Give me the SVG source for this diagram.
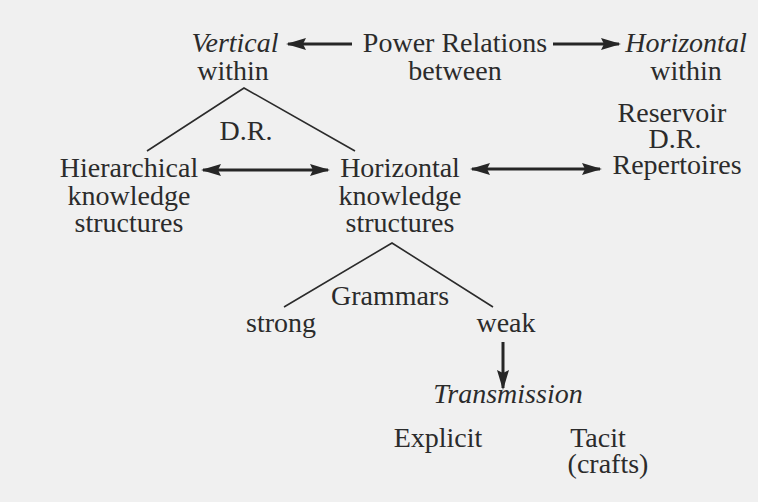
<svg xmlns="http://www.w3.org/2000/svg" width="758" height="502" viewBox="0 0 758 502" font-family="'Liberation Serif', 'Times New Roman', serif">
  <defs>
    <style>
      text { font-size: 28px; fill: #2b2b2b; text-anchor: middle; }
      .it { font-style: italic; }
      .arrow { stroke: #262626; stroke-width: 3; fill: none; }
      .branch { stroke: #2b2b2b; stroke-width: 1.6; fill: none; }
    </style>
    <marker id="head" viewBox="0 0 20 12" refX="18" refY="6" markerWidth="20" markerHeight="12" markerUnits="userSpaceOnUse" orient="auto-start-reverse">
      <path d="M0,0 L20,6 L0,12 L3,6 z" fill="#262626"/>
    </marker>
  </defs>

  <rect width="758" height="502" fill="#f0f0f0"/>

  <!-- connectors -->
  <g id="connectors">
    <line class="arrow" x1="352" y1="44" x2="288" y2="44" marker-end="url(#head)"/>
    <line class="arrow" x1="553" y1="44" x2="619" y2="44" marker-end="url(#head)"/>
    <polyline class="branch" points="147,151 244,88 355,151"/>
    <line class="arrow" x1="203" y1="170" x2="328" y2="170" marker-start="url(#head)" marker-end="url(#head)"/>
    <line class="arrow" x1="472" y1="169" x2="600" y2="169" marker-start="url(#head)" marker-end="url(#head)"/>
    <polyline class="branch" points="284,307 392,243 493,307"/>
    <line class="arrow" x1="503" y1="342" x2="503" y2="388" marker-end="url(#head)"/>
  </g>

  <!-- nodes -->
  <g id="vertical">
    <text class="it" x="235" y="52">Vertical</text>
    <text x="233" y="80">within</text>
  </g>
  <g id="power-relations">
    <text x="455" y="52">Power Relations</text>
    <text x="455" y="80">between</text>
  </g>
  <g id="horizontal">
    <text class="it" x="686" y="52">Horizontal</text>
    <text x="686" y="80">within</text>
  </g>
  <g id="dr-label">
    <text x="246" y="140">D.R.</text>
  </g>
  <g id="hierarchical">
    <text x="129" y="177">Hierarchical</text>
    <text x="129" y="205">knowledge</text>
    <text x="129" y="232">structures</text>
  </g>
  <g id="horizontal-structures">
    <text x="400" y="177">Horizontal</text>
    <text x="400" y="205">knowledge</text>
    <text x="400" y="232">structures</text>
  </g>
  <g id="reservoir">
    <text x="672" y="122">Reservoir</text>
    <text x="675" y="148">D.R.</text>
    <text x="677" y="174">Repertoires</text>
  </g>
  <g id="grammars">
    <text x="390" y="305">Grammars</text>
  </g>
  <g id="strong">
    <text x="281" y="332">strong</text>
  </g>
  <g id="weak">
    <text x="506" y="332">weak</text>
  </g>
  <g id="transmission">
    <text class="it" x="508" y="403">Transmission</text>
  </g>
  <g id="explicit">
    <text x="438" y="447">Explicit</text>
  </g>
  <g id="tacit">
    <text x="598" y="447">Tacit</text>
    <text x="608" y="473">(crafts)</text>
  </g>
</svg>
